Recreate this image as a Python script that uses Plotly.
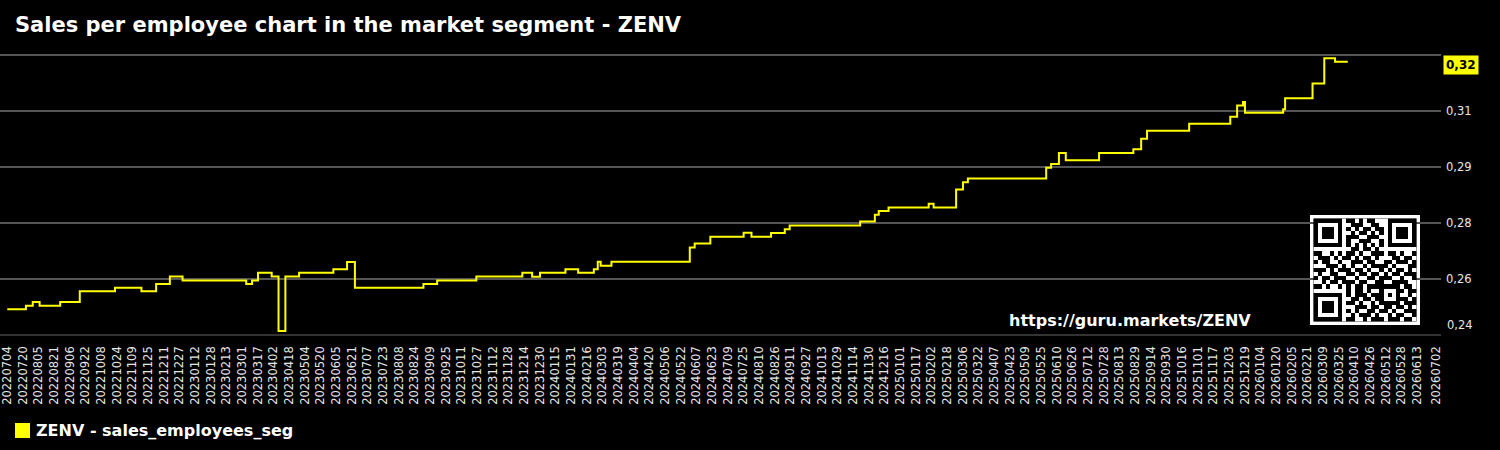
import plotly.graph_objects as go
from datetime import datetime

# ---------------- data ----------------
change_dates = [
    "2022-07-04", "2022-07-23", "2022-07-30", "2022-08-06", "2022-08-27", "2022-09-16",
    "2022-10-22", "2022-11-18", "2022-12-03", "2022-12-17", "2022-12-30", "2023-03-05",
    "2023-03-11", "2023-03-17", "2023-03-31", "2023-04-07", "2023-04-14", "2023-04-28",
    "2023-06-02", "2023-06-16", "2023-06-24", "2023-09-02", "2023-09-16", "2023-10-26",
    "2023-12-12", "2023-12-22", "2023-12-30", "2024-01-25", "2024-02-07", "2024-02-23",
    "2024-02-27", "2024-03-01", "2024-03-12", "2024-05-31", "2024-06-05", "2024-06-21",
    "2024-07-25", "2024-08-02", "2024-08-22", "2024-09-05", "2024-09-10", "2024-11-21",
    "2024-12-06", "2024-12-10", "2024-12-20", "2025-01-30", "2025-02-04", "2025-02-27",
    "2025-03-06", "2025-03-11", "2025-05-30", "2025-06-04", "2025-06-12", "2025-06-19",
    "2025-07-23", "2025-08-27", "2025-09-04", "2025-09-10", "2025-10-23", "2025-12-04",
    "2025-12-11", "2025-12-17", "2025-12-19", "2026-01-27", "2026-01-29", "2026-02-26",
    "2026-03-10", "2026-03-21", "2026-04-03",
]
sales_employees_seg = [
    0.2511, 0.2521, 0.2531, 0.2521, 0.2531, 0.2561,
    0.2571, 0.2561, 0.2581, 0.2602, 0.2591, 0.2581,
    0.2591, 0.2612, 0.2602, 0.2451, 0.2602, 0.2612,
    0.2622, 0.2642, 0.2571, 0.2581, 0.2591, 0.2602,
    0.2612, 0.2601, 0.2612, 0.2622, 0.2612, 0.2622,
    0.2643, 0.2632, 0.2643, 0.2682, 0.2693, 0.2712,
    0.2723, 0.2712, 0.2722, 0.2733, 0.2743, 0.2754,
    0.2773, 0.2783, 0.2793, 0.2803, 0.2793, 0.2843,
    0.2863, 0.2873, 0.2903, 0.2913, 0.2944, 0.2924,
    0.2944, 0.2954, 0.2983, 0.3005, 0.3025, 0.3044,
    0.3075, 0.3085, 0.3055, 0.3065, 0.3095, 0.3136,
    0.3206, 0.3196, 0.3196,
]

x_tick_labels = [
    "20220704", "20220720", "20220805", "20220821", "20220906", "20220922", "20221008",
    "20221024", "20221109", "20221125", "20221211", "20221227", "20230112", "20230128",
    "20230213", "20230301", "20230317", "20230402", "20230418", "20230504", "20230520",
    "20230605", "20230621", "20230707", "20230723", "20230808", "20230824", "20230909",
    "20230925", "20231011", "20231027", "20231112", "20231128", "20231214", "20231230",
    "20240115", "20240131", "20240216", "20240303", "20240319", "20240404", "20240420",
    "20240506", "20240522", "20240607", "20240623", "20240709", "20240725", "20240810",
    "20240826", "20240911", "20240927", "20241013", "20241029", "20241114", "20241130",
    "20241216", "20250101", "20250117", "20250202", "20250218", "20250306", "20250322",
    "20250407", "20250423", "20250509", "20250525", "20250610", "20250626", "20250712",
    "20250728", "20250813", "20250829", "20250914", "20250930", "20251016", "20251101",
    "20251117", "20251203", "20251219", "20260104", "20260120", "20260205", "20260221",
    "20260309", "20260325", "20260410", "20260426", "20260512", "20260528", "20260613",
    "20260702",
]

y_tick_values = [0.244, 0.2595, 0.275, 0.2905, 0.306, 0.3215]
y_tick_labels = ["", "0,26", "0,28", "0,29", "0,31", ""]
bottom_tick_label = "0,24"
last_value_label = "0,32"
legend_label = "ZENV - sales_employees_seg"

qr_rows = [
    "1111111" + "0" + "110101100" + "0" + "1111111",
    "1000001" + "0" + "011100110" + "0" + "1000001",
    "1011101" + "0" + "101011011" + "0" + "1011101",
    "1011101" + "0" + "010110101" + "0" + "1011101",
    "1011101" + "0" + "111001110" + "0" + "1011101",
    "1000001" + "0" + "100111001" + "0" + "1000001",
    "1111111" + "0" + "101010101" + "0" + "1111111",
    "00000000" + "011011010" + "00000000",
    "110010" + "1" + "011010011101101001",
    "011101" + "0" + "110101101000110110",
    "101100" + "1" + "001110110011011101",
    "000111" + "0" + "101001011110100011",
    "111010" + "1" + "110110100101011010",
    "010011" + "0" + "011011011010110111",
    "101101" + "1" + "100100110111001001",
    "001011" + "0" + "111011001100111100",
    "110100" + "1" + "010110111" + "11111" + "0110",
    "00000000" + "1" + "0110100" + "10001" + "1011",
    "1111111" + "0" + "10111011" + "10101" + "0010",
    "1000001" + "0" + "01101101" + "10001" + "1101",
    "1011101" + "0" + "11010010" + "11111" + "0111",
    "1011101" + "0" + "00111011" + "011011010",
    "1011101" + "0" + "10100110" + "110100111",
    "1000001" + "0" + "01011101" + "001011001",
    "1111111" + "0" + "11001011" + "101110110",
]

# ---------------- figure ----------------
FONT = "DejaVu Sans"
YELLOW = "#ffff00"
TICK_COLOR = "#e6e6e6"

tick_vals = [datetime.strptime(s, "%Y%m%d") for s in x_tick_labels]
qr_z = [[int(c) for c in row] for row in qr_rows]

fig = go.Figure()

fig.add_trace(go.Scatter(
    x=change_dates, y=sales_employees_seg,
    mode="lines", line=dict(color=YELLOW, width=2, shape="hv"),
    name=legend_label, showlegend=False, hoverinfo="x+y",
))
fig.add_trace(go.Heatmap(
    z=qr_z, xaxis="x2", yaxis="y2",
    colorscale=[[0, "#ffffff"], [1, "#000000"]], zmin=0, zmax=1,
    showscale=False, hoverinfo="skip",
))

PLOT_L, PLOT_R, PLOT_T, PLOT_B = 0, 1441, 52, 338
PW, PH = PLOT_R - PLOT_L, PLOT_B - PLOT_T
Y_LO, Y_HI = 0.244, 0.3215
# gridlines at y=55 (0.3215) and y=335 (0.244)
u_per_px = (Y_HI - Y_LO) / 280.0
y_range = [Y_LO - 3 * u_per_px, Y_HI + 3 * u_per_px]

def px_x(x):
    return (x - PLOT_L) / PW

def px_y(y):
    return (PLOT_B - y) / PH

fig.update_layout(
    width=1500, height=450,
    margin=dict(l=PLOT_L, r=1500 - PLOT_R, t=PLOT_T, b=450 - PLOT_B),
    paper_bgcolor="#000000", plot_bgcolor="#000000",
    font=dict(family=FONT, color="#ffffff"),
    showlegend=False,
    title=dict(
        text="Sales per employee chart in the market segment - ZENV",
        x=15 / 1500, xref="container", xanchor="left",
        y=1 - 25 / 450, yref="container", yanchor="middle",
        font=dict(family=FONT, size=21, color="#ffffff", weight="bold"),
    ),
    xaxis=dict(
        type="date",
        range=["2022-06-26 13:00", "2026-07-07 05:00"],
        tickmode="array", tickvals=tick_vals, ticktext=x_tick_labels,
        tickangle=-90, tickfont=dict(family=FONT, size=11.5, color=TICK_COLOR),
        showgrid=False, zeroline=False, showline=False,
        ticks="", ticklabelstandoff=5,
    ),
    yaxis=dict(
        side="right",
        range=y_range,
        tickmode="array", tickvals=y_tick_values, ticktext=y_tick_labels,
        tickfont=dict(family=FONT, size=11.5, color=TICK_COLOR),
        showgrid=True, gridcolor="#555555", gridwidth=2,
        zeroline=False, ticks="", ticklabelstandoff=4,
    ),
    xaxis2=dict(
        domain=[px_x(1313.5), px_x(1416.5)], anchor="y2",
        range=[-0.5, 24.5], visible=False, fixedrange=True,
    ),
    yaxis2=dict(
        domain=[px_y(321.5), px_y(218.5)], anchor="x2",
        range=[24.5, -0.5], visible=False, fixedrange=True,
    ),
    shapes=[
        dict(
            type="rect", xref="paper", yref="paper",
            x0=px_x(1310), x1=px_x(1420), y0=px_y(325), y1=px_y(215),
            fillcolor="#ffffff", line=dict(width=0), layer="below",
        ),
        dict(
            type="line", xref="paper", yref="y",
            x0=0, x1=1, y0=Y_LO, y1=Y_LO,
            line=dict(color="#333333", width=2), layer="above",
        ),
        dict(
            type="rect", xref="paper", yref="paper",
            x0=px_x(15), x1=px_x(30), y0=px_y(438), y1=px_y(423),
            fillcolor=YELLOW, line=dict(width=0),
        ),
    ],
    annotations=[
        dict(
            text=legend_label, xref="paper", yref="paper",
            x=px_x(34), xanchor="left", y=px_y(430), yanchor="middle",
            showarrow=False,
            font=dict(family=FONT, size=16, color="#ffffff", weight="bold"),
        ),
        dict(
            text="https://guru.markets/ZENV", xref="paper", yref="paper",
            x=px_x(1007), xanchor="left", y=px_y(320), yanchor="middle",
            showarrow=False,
            font=dict(family=FONT, size=16, color="#ffffff", weight="bold"),
        ),
        dict(
            text=bottom_tick_label, xref="paper", yref="y",
            x=1, xanchor="left", xshift=4, y=Y_LO, yanchor="middle",
            yshift=10, showarrow=False,
            font=dict(family=FONT, size=11.5, color=TICK_COLOR),
        ),
        dict(
            text="<b>" + last_value_label + "</b>", xref="paper", yref="y",
            x=1, xanchor="left", xshift=2, y=sales_employees_seg[-1], yanchor="middle",
            yshift=-3, showarrow=False, bgcolor=YELLOW, borderpad=2,
            font=dict(family=FONT, size=12, color="#000000"),
        ),
    ],
)

fig.write_html("out.html")
